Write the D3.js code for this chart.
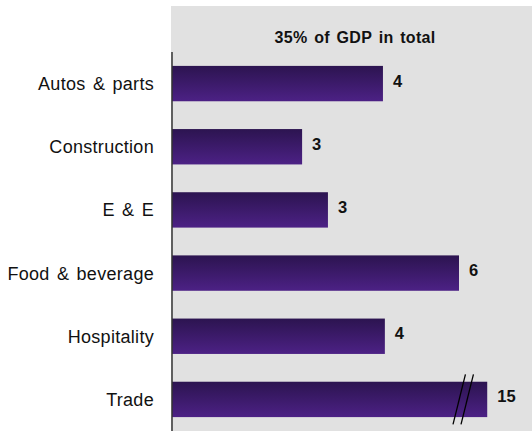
<!DOCTYPE html>
<html>
<head>
<meta charset="utf-8">
<script src="https://cdn.jsdelivr.net/npm/d3@7"></script>
<style>
  html, body { margin: 0; padding: 0; background: #ffffff; }
  svg { display: block; }
  text { font-family: "Liberation Sans", Arial, Helvetica, sans-serif; fill: #111; }
</style>
</head>
<body>
<svg id="chart" width="532" height="434"></svg>
<script>
// Sector shares of GDP (%)
const categories = ["Autos & parts", "Construction", "E & E", "Food & beverage", "Hospitality", "Trade"];
const shares = [4.41, 2.72, 3.26, 6.0, 4.45, 15];
const title = "35% of GDP in total";
// Bars longer than this are cut with a break mark
const axisMax = 6.59;

const svg = d3.select("#chart");
const W = 532, H = 434;
const panel = { x: 171, y: 6, w: W - 171, h: 425 };
const x0 = 172;

const data = categories.map((c, i) => ({ name: c, value: shares[i] }));

const x = d3.scaleLinear().domain([0, 6]).range([x0, x0 + 287]);
const y = d3.scaleBand()
  .domain(categories)
  .range([52, 431])
  .paddingInner(0.44)
  .paddingOuter(0.22);

// Gradient fill for the bars
const defs = svg.append("defs");
const grad = defs.append("linearGradient")
  .attr("id", "barGrad").attr("x1", 0).attr("y1", 0).attr("x2", 0).attr("y2", 1);
grad.append("stop").attr("offset", "0%").attr("stop-color", "#2c1450");
grad.append("stop").attr("offset", "100%").attr("stop-color", "#4c2185");

// Grey plot panel
svg.append("rect")
  .attr("x", panel.x).attr("y", panel.y)
  .attr("width", panel.w).attr("height", panel.h)
  .attr("fill", "#e1e1e1");

// Title
svg.append("text")
  .attr("x", 355).attr("y", 43)
  .attr("text-anchor", "middle")
  .style("font-size", "16px")
  .style("font-weight", "bold")
  .style("letter-spacing", "0.3px")
  .style("word-spacing", "2px")
  .text(title);

// Bars
const shown = v => Math.min(v, axisMax);
svg.append("g").selectAll("rect")
  .data(data)
  .join("rect")
  .attr("x", x(0))
  .attr("y", d => y(d.name))
  .attr("width", d => x(shown(d.value)) - x(0))
  .attr("height", y.bandwidth())
  .attr("fill", "url(#barGrad)");

// Break marks on truncated bars
const broken = data.filter(d => d.value > axisMax);
const brk = svg.append("g");
broken.forEach(d => {
  const end = x(axisMax);
  const cy = y(d.name) + y.bandwidth() / 2;
  [-28, -20].forEach(off => {
    brk.append("line")
      .attr("x1", end + off - 6.2).attr("y1", cy + 25)
      .attr("x2", end + off + 6.2).attr("y2", cy - 25)
      .attr("stroke", "#000").attr("stroke-width", 1.3);
  });
});

// Value labels
const fmt = d3.format(".0f");
svg.append("g").selectAll("text")
  .data(data)
  .join("text")
  .attr("x", d => x(shown(d.value)) + 10)
  .attr("y", d => y(d.name) + y.bandwidth() / 2 + 3)
  .style("font-size", "16.5px")
  .style("font-weight", "bold")
  .text(d => fmt(d.value));

// Category axis
const yAxis = d3.axisLeft(y).tickSize(0).tickPadding(18);
const ag = svg.append("g")
  .attr("transform", `translate(${x0},0)`)
  .call(yAxis);
ag.select(".domain")
  .attr("stroke", "#333")
  .attr("stroke-width", 1.5)
  .attr("d", `M0,52V431`);
ag.selectAll(".tick text")
  .attr("dy", "0.36em")
  .style("font-size", "18px")
  .style("letter-spacing", "0.3px")
  .style("word-spacing", "2px")
  .style("font-family", "\"Liberation Sans\", Arial, Helvetica, sans-serif")
  .attr("fill", "#111");
</script>
</body>
</html>
